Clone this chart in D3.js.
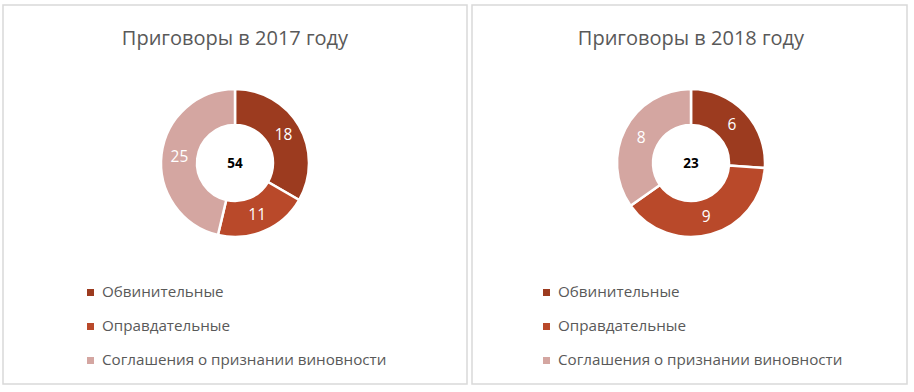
<!DOCTYPE html>
<html>
<head>
<meta charset="utf-8">
<style>
  body { margin: 0; background: #fff; }
  svg { display: block; font-family: "Open Sans", Lato, sans-serif; }
</style>
</head>
<body>
<svg id="chart" width="914" height="392"></svg>
<script src="https://d3js.org/d3.v7.min.js"></script>
<script>
  const categories = ["Обвинительные", "Оправдательные", "Соглашения о признании виновности"];
  const titles = ["Приговоры в 2017 году", "Приговоры в 2018 году"];
  const values2017 = [18, 11, 25];
  const values2018 = [6, 9, 8];
  const sliceColors = ["#9c3b1f", "#b9492a", "#d4a6a1"];

  const panels = [
    { x: 3, y: 5, w: 464, h: 379, title: titles[0], values: values2017, cx: 235, legendX: 87 },
    { x: 472, y: 5, w: 435, h: 379, title: titles[1], values: values2018, cx: 691, legendX: 543 }
  ];

  const svg = d3.select("#chart");
  const color = d3.scaleOrdinal().domain(categories).range(sliceColors);
  const outerR = 74, innerR = 38, cy = 163;

  const arc = d3.arc().innerRadius(innerR).outerRadius(outerR);
  const labelArc = d3.arc().innerRadius((innerR + outerR) / 2).outerRadius((innerR + outerR) / 2);
  const pie = d3.pie().sort(null).value(d => d.v);

  panels.forEach(p => {
    svg.append("rect")
      .attr("x", p.x).attr("y", p.y)
      .attr("width", p.w).attr("height", p.h)
      .attr("fill", "#fff")
      .attr("stroke", "#d9d9d9")
      .attr("stroke-width", 1.5);

    svg.append("text")
      .attr("x", p.cx).attr("y", 45)
      .attr("text-anchor", "middle")
      .attr("font-size", 20)
      .attr("fill", "#595959")
      .text(p.title);

    const data = categories.map((c, i) => ({ c, v: p.values[i] }));
    const g = svg.append("g").attr("transform", `translate(${p.cx},${cy})`);
    const arcs = pie(data);

    g.selectAll("path")
      .data(arcs)
      .join("path")
      .attr("d", arc)
      .attr("fill", d => color(d.data.c))
      .attr("stroke", "#fff")
      .attr("stroke-width", 2.5);

    g.selectAll("text.lbl")
      .data(arcs)
      .join("text")
      .attr("class", "lbl")
      .attr("transform", d => `translate(${labelArc.centroid(d)})`)
      .attr("text-anchor", "middle")
      .attr("dy", "0.35em")
      .attr("font-size", 15.5)
      .attr("fill", "#fff")
      .text(d => d.data.v);

    g.append("text")
      .attr("text-anchor", "middle")
      .attr("dy", "0.35em")
      .attr("font-size", 13.5)
      .attr("font-weight", "bold")
      .attr("fill", "#000")
      .text(d3.sum(p.values));

    const legend = svg.append("g").attr("transform", `translate(${p.legendX},0)`);
    const rowY = d3.scalePoint().domain(categories).range([292, 360]);
    const item = legend.selectAll("g")
      .data(categories)
      .join("g")
      .attr("transform", c => `translate(0,${rowY(c)})`);
    item.append("rect")
      .attr("x", 0).attr("y", -3)
      .attr("width", 7).attr("height", 7)
      .attr("fill", c => color(c));
    item.append("text")
      .attr("x", 15).attr("dy", "0.35em")
      .attr("font-size", 15.2)
      .attr("fill", "#595959")
      .text(c => c);
  });
</script>
</body>
</html>
